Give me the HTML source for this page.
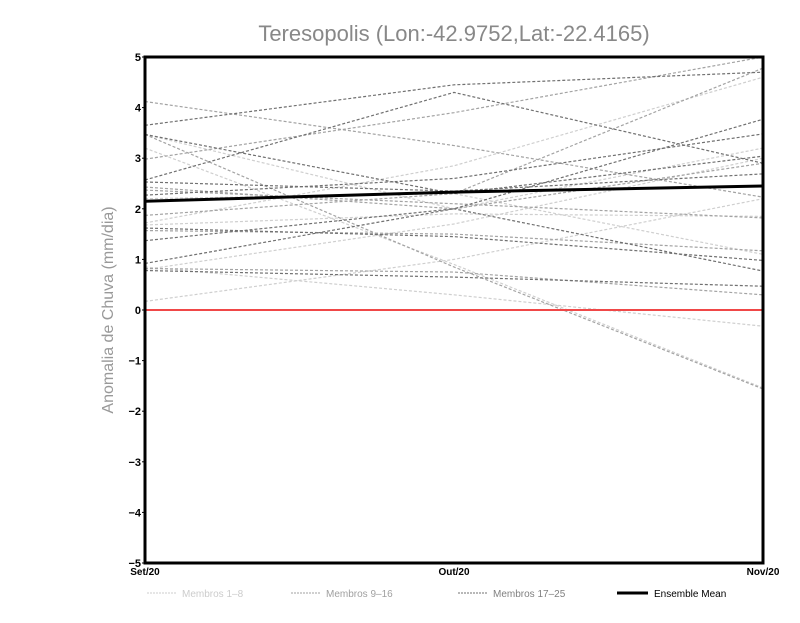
<!DOCTYPE html>
<html><head><meta charset="utf-8"><style>
body{margin:0;background:#fff;width:800px;height:618px;overflow:hidden;font-family:"Liberation Sans",sans-serif}
</style></head><body>
<svg width="800" height="618" id="chart">
<text x="454" y="41" text-anchor="middle" font-size="22" fill="#888">Teresopolis (Lon:-42.9752,Lat:-22.4165)</text>
<text transform="translate(113,310) rotate(-90)" text-anchor="middle" font-size="16" fill="#999">Anomalia de Chuva (mm/dia)</text>
<g id="yticks"></g><g id="series"></g><g id="xticks"></g>
<rect x="145" y="57" width="618" height="506" fill="none" stroke="#000" stroke-width="3"/>
<g font-size="10">
<g><line x1="147" y1="593" x2="177" y2="593" stroke="#ccc" stroke-dasharray="2,1"/><text x="182" y="597" fill="#ccc">Membros 1–8</text></g>
<g><line x1="291" y1="593" x2="321" y2="593" stroke="#a0a0a0" stroke-dasharray="2,1"/><text x="326" y="597" fill="#a0a0a0">Membros 9–16</text></g>
<g><line x1="458" y1="593" x2="488" y2="593" stroke="#707070" stroke-dasharray="2,1"/><text x="493" y="597" fill="#808080">Membros 17–25</text></g>
<g><line x1="617" y1="593" x2="648" y2="593" stroke="#000" stroke-width="3"/><text x="654" y="597" fill="#000">Ensemble Mean</text></g>
</g>
</svg>
<script>
const categories=["Set/20","Out/20","Nov/20"];
const yTicks=[-5,-4,-3,-2,-1,0,1,2,3,4,5];
const membros1to8=[[0.17,1.0,2.2],[3.47,2.0,3.2],[1.72,2.85,4.6],[0.85,0.3,-0.32],[1.68,1.9,1.85],[0.8,1.7,3.0],[2.2,2.3,1.1],[3.2,0.9,-1.54]];
const membros9to16=[[4.12,3.25,2.23],[2.98,3.9,5.0],[1.87,2.3,4.78],[1.57,1.5,1.17],[2.37,2.1,1.82],[0.82,0.75,0.3],[2.43,2.0,2.9],[3.47,0.85,-1.56]];
const membros17to25=[[3.65,4.45,4.7],[3.47,2.3,3.04],[2.57,4.3,2.9],[2.53,2.35,2.69],[0.92,2.0,3.77],[1.62,1.45,0.98],[0.78,0.65,0.47],[2.27,2.6,3.48],[1.37,2.0,0.77]];
const ensembleMean=[2.15,2.33,2.45];
const NS="http://www.w3.org/2000/svg";
const X0=145,X1=763,Y0=563,Y1=57;
function xs(i){return X0+i*(X1-X0)/(categories.length-1);}
function ys(v){return Y0-(v+5)*(Y0-Y1)/10;}
function mk(t,a,p){const e=document.createElementNS(NS,t);for(const k in a)e.setAttribute(k,a[k]);p.appendChild(e);return e;}
const yt=document.getElementById('yticks');
yTicks.forEach(v=>{
 const t=mk('text',{x:X0-4,y:ys(v)+4,'text-anchor':'end','font-size':'11','font-weight':'bold'},yt);
 t.textContent=String(v).replace('-','−');
 
 
 const l=mk('line',{x1:X0-3,x2:X0,y1:ys(v),y2:ys(v),stroke:'#000'},yt);
 
 
});
const xt=document.getElementById('xticks');
categories.forEach((c,i)=>{
 const t=mk('text',{x:xs(i),y:Y0+12,'text-anchor':'middle','font-size':'10','font-weight':'bold'},xt);
 t.textContent=c;
 
 
});
const sg=document.getElementById('series');
function drawSet(set,color,name){
 set.forEach(vals=>{
  const p=mk('polyline',{points:vals.map((v,i)=>xs(i)+','+ys(v)).join(' '),fill:'none',stroke:color,'stroke-width':'1.2','stroke-dasharray':'3,2'},sg);
  
  
 });
}
drawSet(membros1to8,'#cfcfcf','member-line-1-8');
drawSet(membros9to16,'#a3a3a3','member-line-9-16');
drawSet(membros17to25,'#707070','member-line-17-25');
const z=mk('line',{x1:X0,x2:X1,y1:ys(0),y2:ys(0),stroke:'#f04848','stroke-width':'2'},sg);


const m=mk('polyline',{points:ensembleMean.map((v,i)=>xs(i)+','+ys(v)).join(' '),fill:'none',stroke:'#000','stroke-width':'3'},sg);


</script>
</body></html>
